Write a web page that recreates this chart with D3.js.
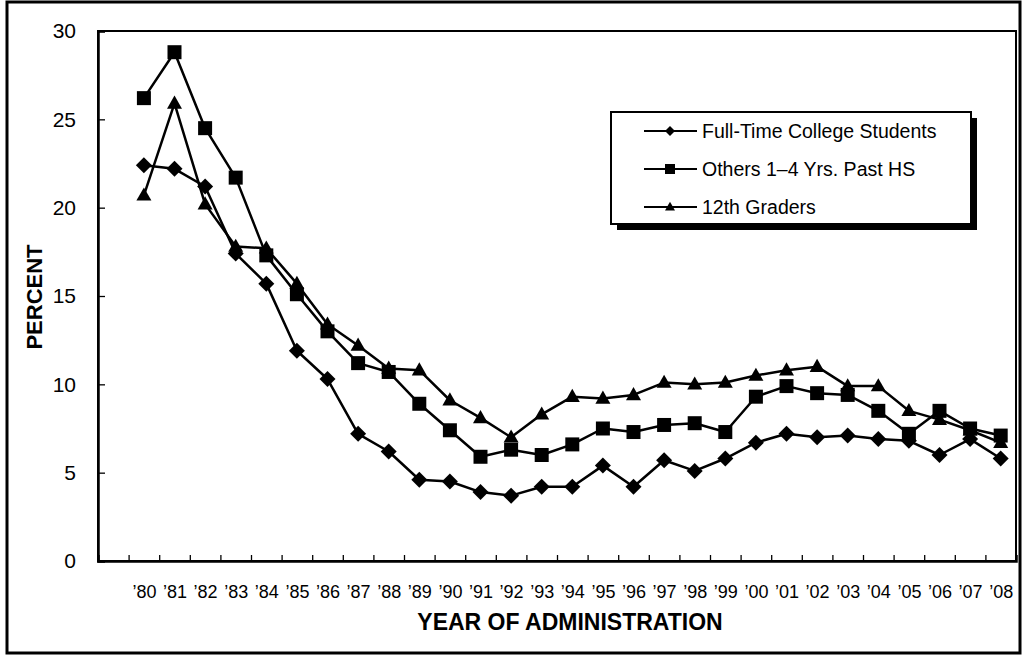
<!DOCTYPE html>
<html>
<head>
<meta charset="utf-8">
<script src="https://cdn.jsdelivr.net/npm/d3@7"></script>
<style>
  html, body { margin: 0; padding: 0; background: #fff; }
  svg { display: block; }
  text { font-family: Arial, "Liberation Sans", sans-serif; fill: #000; }
</style>
</head>
<body>
<svg id="chart" width="1023" height="655"></svg>
<script>
const years = [1980,1981,1982,1983,1984,1985,1986,1987,1988,1989,1990,1991,1992,1993,1994,1995,1996,1997,1998,1999,2000,2001,2002,2003,2004,2005,2006,2007,2008];
const yearLabels = ["’80","’81","’82","’83","’84","’85","’86","’87","’88","’89","’90","’91","’92","’93","’94","’95","’96","’97","’98","’99","’00","’01","’02","’03","’04","’05","’06","’07","’08"];
const fullTimeCollege = [22.4,22.2,21.2,17.4,15.7,11.9,10.3,7.2,6.2,4.6,4.5,3.9,3.7,4.2,4.2,5.4,4.2,5.7,5.1,5.8,6.7,7.2,7.0,7.1,6.9,6.8,6.0,6.9,5.8];
const othersPastHS = [26.2,28.8,24.5,21.7,17.3,15.1,13.0,11.2,10.7,8.9,7.4,5.9,6.3,6.0,6.6,7.5,7.3,7.7,7.8,7.3,9.3,9.9,9.5,9.4,8.5,7.2,8.5,7.5,7.1];
const twelfthGraders = [20.7,25.9,20.2,17.8,17.7,15.7,13.4,12.2,10.9,10.8,9.1,8.1,7.0,8.3,9.3,9.2,9.4,10.1,10.0,10.1,10.5,10.8,11.0,9.9,9.9,8.5,8.0,7.4,6.7];
const yTicks = [0,5,10,15,20,25,30];
const seriesNames = ["Full-Time College Students","Others 1–4 Yrs. Past HS","12th Graders"];
const seriesMarkers = ["diamond","square","triangle"];

const svg = d3.select("#chart");
const plot = {left: 98, top: 31, right: 1016, bottom: 561};

// outer frame
svg.append("rect").attr("x", 7).attr("y", 2).attr("width", 1013).attr("height", 651)
  .attr("fill", "#fff").attr("stroke", "#000").attr("stroke-width", 3);

const x = d3.scaleLinear().domain([1978.5, 2008.5]).range([plot.left, plot.right]);
const y = d3.scaleLinear().domain([0, 30]).range([plot.bottom, plot.top]);

// plot frame
svg.append("rect").attr("x", plot.left).attr("y", plot.top)
  .attr("width", plot.right - plot.left).attr("height", plot.bottom - plot.top)
  .attr("fill", "none").attr("stroke", "#000").attr("stroke-width", 2);

// y axis
const yAxis = svg.append("g").attr("transform", `translate(${plot.left},0)`)
  .call(d3.axisLeft(y).tickValues(yTicks).tickSize(-7).tickPadding(22).tickFormat(d3.format("d")));
yAxis.select(".domain").attr("stroke-width", 2.5);
yAxis.selectAll(".tick line").attr("stroke-width", 1.3);
yAxis.selectAll("text").style("font-size", "21px").attr("font-family", "Arial, 'Liberation Sans', sans-serif");

// x axis ticks at category boundaries
const bounds = years.slice(0, -1).map(v => v + 0.5).concat([1979.5]);
const xAxis = svg.append("g").attr("transform", `translate(0,${plot.bottom})`)
  .call(d3.axisBottom(x).tickValues(bounds).tickSize(-6).tickFormat(""));
xAxis.select(".domain").attr("stroke-width", 2.5);
xAxis.selectAll(".tick line").attr("stroke-width", 1.3);

// x labels
const xLab = svg.append("g").attr("transform", `translate(0,${plot.bottom})`)
  .call(d3.axisBottom(x).tickValues(years).tickSize(0).tickPadding(24)
    .tickFormat((d, i) => yearLabels[i]));
xLab.select(".domain").remove();
xLab.selectAll("text").style("font-size", "18px").attr("font-family", "Arial, 'Liberation Sans', sans-serif");

// axis titles
svg.append("text").attr("x", 570).attr("y", 630).attr("text-anchor", "middle")
  .style("font-size", "23px").style("font-weight", "bold").text("YEAR OF ADMINISTRATION");
svg.append("text").attr("transform", "translate(42,297) rotate(-90)").attr("text-anchor", "middle")
  .style("font-size", "22px").style("font-weight", "bold").text("PERCENT");

// markers
function markerPath(type, s) {
  if (type === "diamond") return `M0,${-s}L${s},0L0,${s}L${-s},0Z`;
  if (type === "square") return `M${-s},${-s}H${s}V${s}H${-s}Z`;
  const h = s * 1.75;
  return `M0,${-h*0.6}L${s},${h*0.4}L${-s},${h*0.4}Z`;
}

const allSeries = [fullTimeCollege, othersPastHS, twelfthGraders];
const line = d3.line().x((d, i) => x(years[i])).y(d => y(d));
const sizes = {diamond: 8, square: 7, triangle: 7.5};

allSeries.forEach((vals, si) => {
  const g = svg.append("g");
  g.append("path").attr("d", line(vals)).attr("fill", "none")
    .attr("stroke", "#000").attr("stroke-width", 2.5).attr("stroke-linejoin", "round");
  g.selectAll("path.m").data(vals).join("path").attr("class", "m")
    .attr("transform", (d, i) => `translate(${x(years[i])},${y(d)})`)
    .attr("d", markerPath(seriesMarkers[si], sizes[seriesMarkers[si]]))
    .attr("fill", "#000");
});

// legend
const lg = svg.append("g");
lg.append("rect").attr("x", 617).attr("y", 118).attr("width", 360).attr("height", 112).attr("fill", "#000");
lg.append("rect").attr("x", 611).attr("y", 112).attr("width", 360).attr("height", 112)
  .attr("fill", "#fff").attr("stroke", "#000").attr("stroke-width", 2);
seriesNames.forEach((name, i) => {
  const cy = 131 + i * 38;
  lg.append("line").attr("x1", 644).attr("x2", 697).attr("y1", cy).attr("y2", cy)
    .attr("stroke", "#000").attr("stroke-width", 2);
  lg.append("path").attr("transform", `translate(670,${cy})`)
    .attr("d", markerPath(seriesMarkers[i], 5)).attr("fill", "#000");
  lg.append("text").attr("x", 702).attr("y", cy).attr("dy", "0.36em")
    .style("font-size", "19.5px").text(name);
});
</script>
</body>
</html>
